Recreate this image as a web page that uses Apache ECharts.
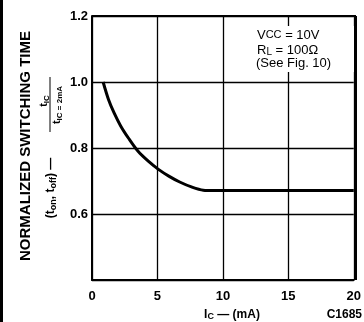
<!DOCTYPE html>
<html>
<head>
<meta charset="utf-8">
<script src="https://cdn.jsdelivr.net/npm/echarts@6/dist/echarts.min.js"></script>
<style>
  html, body { margin: 0; padding: 0; background: #fff; }
  #chart { width: 364px; height: 322px; }
</style>
</head>
<body>
<div id="chart"></div>
<script>
// Collector current (mA) and normalized switching time
const icValues = [0.85, 1.26, 1.68, 2.19, 2.82, 3.52, 4.3, 5.05, 5.9, 6.7, 7.6, 8.5, 9.3, 12, 16, 20];
const normTime = [1.0, 0.947, 0.907, 0.867, 0.828, 0.79, 0.76, 0.736, 0.714, 0.697, 0.682, 0.672, 0.671, 0.671, 0.671, 0.671];
const xTicks = [0, 5, 10, 15, 20];
const yTicks = [0.6, 0.8, 1.0, 1.2];

const FONT = '"Liberation Sans", Arial, sans-serif';
const chart = echarts.init(document.getElementById('chart'), null, { renderer: 'canvas' });

const seriesData = icValues.map((x, i) => [x, normTime[i]]);
const subStyle = (size, drop) => ({ font: 'bold ' + size + 'px ' + FONT, fill: '#000', padding: [drop, 0, 0, 0] });

chart.setOption({
  animation: false,
  backgroundColor: '#fff',
  grid: { left: 92, right: 8, top: 16, bottom: 42, show: false },
  xAxis: {
    type: 'value', min: 0, max: 20, interval: 5,
    axisLine: { show: true, onZero: false, lineStyle: { color: '#000', width: 2 } },
    axisTick: { show: false },
    splitLine: { show: true, lineStyle: { color: '#000', width: 1.3 } },
    axisLabel: {
      color: '#000', fontFamily: FONT, fontWeight: 'bold', fontSize: 13, margin: 10,
      formatter: v => xTicks.includes(v) ? String(v) : ''
    }
  },
  yAxis: {
    type: 'value', min: 0.4, max: 1.2, interval: 0.2,
    axisLine: { show: true, lineStyle: { color: '#000', width: 2 } },
    axisTick: { show: false },
    splitLine: { show: true, lineStyle: { color: '#000', width: 1.3 } },
    axisLabel: {
      color: '#000', fontFamily: FONT, fontWeight: 'bold', fontSize: 13, margin: 4,
      formatter: v => yTicks.some(t => Math.abs(t - v) < 1e-6) ? v.toFixed(1) : ''
    }
  },
  series: [{
    type: 'line',
    data: seriesData,
    smooth: 0.3,
    symbol: 'none',
    lineStyle: { color: '#000', width: 3 }
  }],
  graphic: [
    // frame: top and right edges
    { type: 'line', shape: { x1: 92, y1: 16, x2: 356, y2: 16 }, style: { stroke: '#000', lineWidth: 2 }, z: 10 },
    { type: 'line', shape: { x1: 356, y1: 16, x2: 356, y2: 280 }, style: { stroke: '#000', lineWidth: 2 }, z: 10 },
    // left page edge
    { type: 'rect', shape: { x: 0, y: 0, width: 3, height: 322 }, style: { fill: '#000' } },
    // y-axis titles
    {
      type: 'text', x: 26, y: 146, rotation: Math.PI / 2,
      style: {
        text: 'NORMALIZED SWITCHING TIME', fill: '#000', font: 'bold 15px ' + FONT,
        align: 'center', verticalAlign: 'middle'
      }
    },
    {
      type: 'text', x: 51, y: 188, rotation: Math.PI / 2,
      style: {
        text: '(t{s|on}, t{s|off}) —', fill: '#000', font: 'bold 12px ' + FONT,
        align: 'center', verticalAlign: 'middle',
        rich: { s: subStyle(9, 5) }
      }
    },
    {
      type: 'text', x: 44, y: 101, rotation: Math.PI / 2,
      style: {
        text: 't{s|IC}', fill: '#000', font: 'bold 11px ' + FONT,
        align: 'center', verticalAlign: 'middle',
        rich: { s: subStyle(8, 5) }
      }
    },
    { type: 'line', shape: { x1: 50, y1: 77, x2: 50, y2: 132 }, style: { stroke: '#000', lineWidth: 1 } },
    {
      type: 'text', x: 57, y: 105, rotation: Math.PI / 2,
      style: {
        text: 't{s|IC = 2mA}', fill: '#000', font: 'bold 11px ' + FONT,
        align: 'center', verticalAlign: 'middle',
        rich: { s: subStyle(8, 5) }
      }
    },
    // conditions box
    { type: 'rect', shape: { x: 252, y: 26, width: 102, height: 46 }, style: { fill: '#fff' }, z: 20 },
    {
      type: 'text', x: 257, y: 35, z: 21,
      style: {
        text: 'V{s|CC} = 10V', fill: '#000', font: '13px ' + FONT, verticalAlign: 'middle',
        rich: { s: { font: '11px ' + FONT, fill: '#000' } }
      }
    },
    {
      type: 'text', x: 257, y: 50, z: 21,
      style: {
        text: 'R{s|L} = 100Ω', fill: '#000', font: '13px ' + FONT, verticalAlign: 'middle',
        rich: { s: { font: '10px ' + FONT, fill: '#000', padding: [4, 0, 0, 0] } }
      }
    },
    {
      type: 'text', x: 256, y: 63, z: 21,
      style: { text: '(See Fig. 10)', fill: '#000', font: '13px ' + FONT, verticalAlign: 'middle' }
    },
    // x-axis title and figure code
    {
      type: 'text', x: 232, y: 315,
      style: {
        text: 'I{s|C} — (mA)', fill: '#000', font: 'bold 12px ' + FONT,
        align: 'center', verticalAlign: 'middle',
        rich: { s: subStyle(9, 4) }
      }
    },
    {
      type: 'text', x: 362, y: 315,
      style: { text: 'C1685', fill: '#000', font: 'bold 12px ' + FONT, align: 'right', verticalAlign: 'middle' }
    }
  ]
});
</script>
</body>
</html>
